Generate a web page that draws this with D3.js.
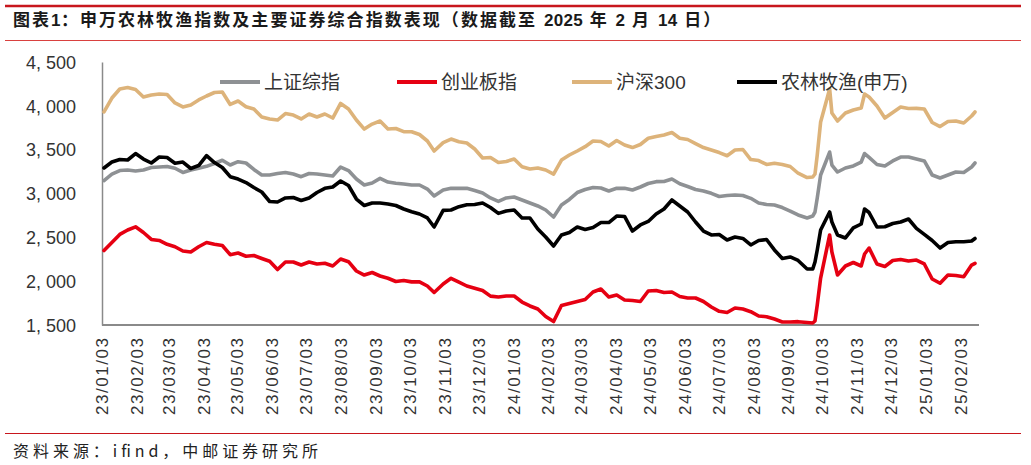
<!DOCTYPE html>
<html>
<head>
<meta charset="utf-8">
<script src="https://cdn.jsdelivr.net/npm/d3@7"></script>
<style>
  html, body { margin: 0; padding: 0; background: #fff; }
  svg { display: block; }
</style>
</head>
<body>
<svg id="chart" width="1031" height="465"></svg>
<script>
// ---------------- data ----------------
const titleParts = ["图表", "1", "：申万农林牧渔指数及主要证券综合指数表现（数据截至 ", "2025", " 年 ", "2", " 月 ", "14", " 日）"];
const sourceText = "资料来源：ifind，中邮证券研究所";

const seriesNames = ["上证综指", "创业板指", "沪深300", "农林牧渔(申万)"];

const dates = [
  "2023-01-03","2023-01-10","2023-01-17","2023-01-24","2023-01-31","2023-02-07","2023-02-14","2023-02-21","2023-02-28","2023-03-07",
  "2023-03-14","2023-03-21","2023-03-28","2023-04-04","2023-04-11","2023-04-18","2023-04-25","2023-05-02","2023-05-09","2023-05-16",
  "2023-05-23","2023-05-30","2023-06-06","2023-06-13","2023-06-20","2023-06-27","2023-07-04","2023-07-11","2023-07-18","2023-07-25",
  "2023-08-01","2023-08-08","2023-08-15","2023-08-22","2023-08-29","2023-09-05","2023-09-12","2023-09-19","2023-09-26","2023-10-03",
  "2023-10-10","2023-10-17","2023-10-23","2023-10-31","2023-11-07","2023-11-14","2023-11-21","2023-11-28","2023-12-05","2023-12-12",
  "2023-12-19","2023-12-26",
  "2024-01-02","2024-01-09","2024-01-16","2024-01-23","2024-01-30","2024-02-06","2024-02-13","2024-02-20","2024-02-27","2024-03-05",
  "2024-03-12","2024-03-19","2024-03-26","2024-04-02","2024-04-09","2024-04-16","2024-04-23","2024-04-30","2024-05-07","2024-05-14",
  "2024-05-21","2024-05-28","2024-06-04","2024-06-11","2024-06-18","2024-06-25","2024-07-02","2024-07-09","2024-07-16","2024-07-23",
  "2024-07-30","2024-08-06","2024-08-13","2024-08-20","2024-08-27","2024-09-03","2024-09-10",
  "2024-09-18","2024-09-23","2024-09-25","2024-09-27","2024-09-30","2024-10-08","2024-10-10","2024-10-15",
  "2024-10-22","2024-10-29","2024-11-05","2024-11-08","2024-11-12","2024-11-19","2024-11-26","2024-12-03","2024-12-10","2024-12-17",
  "2024-12-24","2024-12-31",
  "2025-01-07","2025-01-14","2025-01-21","2025-01-28","2025-02-04","2025-02-11","2025-02-14"
];

// 上证综指
const sse = [
  3148,3222,3262,3268,3257,3268,3297,3302,3308,3288,
  3240,3268,3288,3310,3342,3379,3325,3363,3348,3274,
  3211,3211,3228,3240,3222,3192,3228,3222,3211,3199,
  3302,3262,3165,3097,3120,3173,3131,3116,3108,3097,
  3097,3051,2972,3040,3059,3059,3059,3034,3006,2949,
  2909,2949,
  2960,2926,2892,2858,2812,2732,2869,2932,3011,3046,
  3068,3063,3029,3059,3059,3040,3074,3114,3135,3137,
  3165,3111,3080,3046,3029,3002,2966,2977,2983,2977,
  2945,2892,2875,2869,2840,2800,2755,
  2721,2743,2789,2949,3211,3473,3325,3245,
  3291,3314,3359,3456,3411,3331,3314,3371,3416,3416,
  3393,3371,
  3211,3177,3211,3245,3240,3302,3348
];

// 创业板指
const chinext = [
  2350,2441,2533,2584,2620,2555,2476,2464,2420,2393,
  2344,2333,2393,2441,2422,2407,2302,2321,2284,2293,
  2259,2227,2133,2219,2219,2184,2219,2196,2204,2173,
  2253,2222,2116,2070,2099,2059,2033,1996,2008,1992,
  1992,1945,1871,1968,2033,1990,1945,1919,1894,1829,
  1819,1831,
  1831,1762,1717,1682,1597,1540,1722,1745,1768,1791,
  1876,1911,1819,1842,1785,1779,1768,1888,1894,1871,
  1876,1825,1808,1808,1768,1705,1656,1643,1694,1682,
  1652,1603,1594,1568,1534,1534,1538,
  1529,1523,1546,1728,2036,2527,2333,2070,
  2173,2213,2173,2310,2378,2196,2167,2236,2247,2230,
  2241,2196,
  2025,1976,2070,2065,2051,2184,2204
];

// 沪深300
const csi300 = [
  3930,4089,4192,4209,4187,4101,4124,4135,4130,4033,
  3987,4010,4067,4112,4152,4158,4016,4055,3990,3964,
  3873,3850,3838,3912,3895,3850,3907,3873,3907,3861,
  4027,3964,3838,3735,3792,3827,3735,3741,3705,3705,
  3673,3599,3485,3581,3621,3590,3576,3507,3405,3410,
  3353,3365,
  3393,3306,3279,3291,3268,3222,3382,3439,3485,3534,
  3599,3593,3542,3604,3553,3524,3559,3630,3650,3667,
  3695,3630,3616,3570,3524,3496,3467,3431,3496,3502,
  3387,3376,3331,3345,3331,3308,3231,
  3182,3188,3222,3439,3815,4192,3918,3827,
  3918,3953,3975,4135,4101,3998,3861,3924,3987,3970,
  3971,3964,
  3810,3764,3821,3827,3804,3884,3930
];

// 农林牧渔(申万)
const agri = [
  3291,3359,3388,3382,3456,3393,3348,3416,3410,3345,
  3359,3285,3319,3433,3353,3297,3192,3165,3125,3068,
  3017,2909,2903,2949,2954,2920,2949,3011,3059,3074,
  3143,3091,2937,2863,2892,2892,2880,2863,2823,2792,
  2766,2721,2618,2807,2812,2850,2871,2875,2892,2840,
  2773,2800,
  2812,2721,2721,2595,2504,2401,2527,2555,2618,2590,
  2612,2669,2669,2743,2738,2572,2641,2681,2766,2823,
  2926,2858,2789,2675,2572,2527,2533,2470,2504,2487,
  2413,2464,2475,2356,2259,2276,2236,
  2139,2139,2219,2356,2584,2789,2675,2527,
  2493,2607,2652,2823,2783,2618,2621,2658,2675,2709,
  2602,2533,
  2464,2378,2441,2450,2450,2458,2487
];

const yTicks = [1500, 2000, 2500, 3000, 3500, 4000, 4500];
const yTickLabels = ["1, 500", "2, 000", "2, 500", "3, 000", "3, 500", "4, 000", "4, 500"];

const xTickDates = [
  "2023-01-03","2023-02-03","2023-03-03","2023-04-03","2023-05-03","2023-06-03","2023-07-03","2023-08-03","2023-09-03",
  "2023-10-03","2023-11-03","2023-12-03","2024-01-03","2024-02-03","2024-03-03","2024-04-03","2024-05-03","2024-06-03",
  "2024-07-03","2024-08-03","2024-09-03","2024-10-03","2024-11-03","2024-12-03","2025-01-03","2025-02-03"
];
const xTickLabels = [
  "23/01/03","23/02/03","23/03/03","23/04/03","23/05/03","23/06/03","23/07/03","23/08/03","23/09/03",
  "23/10/03","23/11/03","23/12/03","24/01/03","24/02/03","24/03/03","24/04/03","24/05/03","24/06/03",
  "24/07/03","24/08/03","24/09/03","24/10/03","24/11/03","24/12/03","25/01/03","25/02/03"
];

// ---------------- drawing ----------------
const parse = d3.timeParse("%Y-%m-%d");
const svg = d3.select("#chart");
const latin = "'Liberation Sans', Arial, 'Noto Sans CJK SC', sans-serif";
const cjk = "'Noto Sans CJK SC', 'Liberation Sans', sans-serif";

const colors = ["#8E9194", "#E60012", "#DDB37A", "#000000"];
const seriesData = [sse, chinext, csi300, agri];

// header rules and title
svg.append("line").attr("x1", 5).attr("x2", 1021).attr("y1", 6).attr("y2", 6)
  .attr("stroke", "#C8161D").attr("stroke-width", 2.5);
svg.append("line").attr("x1", 5).attr("x2", 1021).attr("y1", 40.5).attr("y2", 40.5)
  .attr("stroke", "#D9413F").attr("stroke-width", 1);
const title = svg.append("text").attr("x", 13).attr("y", 26)
  .attr("font-family", latin).attr("font-weight", "bold").attr("font-size", 17)
  .attr("fill", "#1a1a1a");
titleParts.forEach(p => {
  const isNum = /^[0-9]+$/.test(p);
  title.append("tspan")
    .style("letter-spacing", isNum ? "0.3px" : "2.05px")
    .text(p);
});

// footer
svg.append("line").attr("x1", 5).attr("x2", 1021).attr("y1", 433.5).attr("y2", 433.5)
  .attr("stroke", "#C8161D").attr("stroke-width", 1);
svg.append("text").attr("x", 13).attr("y", 457)
  .attr("font-family", cjk).attr("font-size", 16)
  .attr("fill", "#222")
  .attr("textLength", 305).attr("lengthAdjust", "spacing")
  .text(sourceText);

// scales
const x = d3.scaleTime()
  .domain([parse(dates[0]), parse(dates[dates.length - 1])])
  .range([104, 975]);
const y = d3.scaleLinear().domain([1500, 4500]).range([325, 62]);

// y axis
const yAxis = svg.append("g").attr("transform", "translate(102,0)")
  .call(d3.axisLeft(y).tickValues(yTicks).tickFormat((d, i) => yTickLabels[i])
    .tickSize(0).tickSizeOuter(0).tickPadding(26));
yAxis.select(".domain").attr("stroke", "#8a8a8a").attr("stroke-width", 1.5);
yAxis.selectAll("text").attr("font-family", latin).attr("font-size", 18)
  .attr("fill", "#333").attr("dy", "0.35em");

// x axis
const xAxis = svg.append("g").attr("transform", "translate(0,325)")
  .call(d3.axisBottom(x).tickValues(xTickDates.map(parse))
    .tickFormat((d, i) => xTickLabels[i]).tickSize(0).tickSizeOuter(0));
xAxis.select(".domain").remove();
xAxis.selectAll("text")
  .attr("font-family", latin).attr("font-size", 17).attr("fill", "#333")
  .attr("transform", "rotate(-90)")
  .attr("text-anchor", "end")
  .attr("x", -13).attr("y", 0).attr("dy", "0.22em")
  .attr("textLength", 77).attr("lengthAdjust", "spacing");
svg.append("line").attr("x1", 102).attr("x2", 979).attr("y1", 325).attr("y2", 325)
  .attr("stroke", "#8a8a8a").attr("stroke-width", 2);

// lines
const line = d3.line()
  .x((d, i) => x(parse(dates[i])))
  .y(d => y(d));
seriesData.forEach((vals, si) => {
  svg.append("path")
    .datum(vals)
    .attr("fill", "none")
    .attr("stroke", colors[si])
    .attr("stroke-width", 3.6)
    .attr("stroke-linejoin", "round")
    .attr("stroke-linecap", "round")
    .attr("d", line);
});

// legend
const legendX = [220, 397, 572, 737];
const legend = svg.append("g");
seriesNames.forEach((name, i) => {
  legend.append("line")
    .attr("x1", legendX[i]).attr("x2", legendX[i] + 40)
    .attr("y1", 82).attr("y2", 82)
    .attr("stroke", colors[i]).attr("stroke-width", 4);
  legend.append("text")
    .attr("x", legendX[i] + 44).attr("y", 82).attr("dy", "0.36em")
    .attr("font-family", latin).attr("font-size", 19).attr("fill", "#333")
    .text(name);
});
</script>
</body>
</html>
